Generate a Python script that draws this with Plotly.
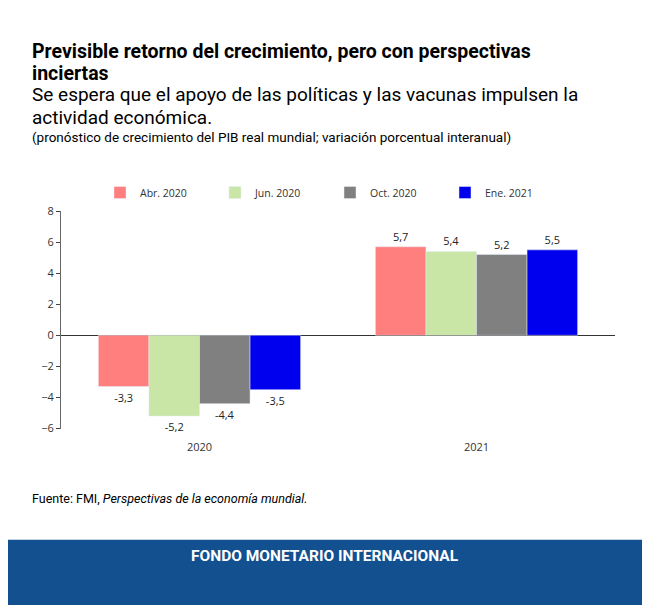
import plotly.graph_objects as go

years = ["2020", "2021"]
series = ["Abr. 2020", "Jun. 2020", "Oct. 2020", "Ene. 2021"]
values = {
    "Abr. 2020": [-3.3, 5.7],
    "Jun. 2020": [-5.2, 5.4],
    "Oct. 2020": [-4.4, 5.2],
    "Ene. 2021": [-3.5, 5.5],
}
colors = ["#ff7f7f", "#c9e6a6", "#808080", "#0000ee"]
yticks = [-6, -4, -2, 0, 2, 4, 6, 8]

W, H = 650, 605
OFF = 8
def py(p): return 1 - (p - OFF) / H
def px(p): return (p - OFF) / W

fig = go.Figure()
for s, c in zip(series, colors):
    fig.add_bar(x=years, y=values[s], name=s, marker_color=c,
                text=[f"{v:.1f}".replace(".", ",") for v in values[s]],
                textposition="outside", cliponaxis=False,
                textfont=dict(size=11, color="#222"))

fig.update_layout(
    width=W, height=H, margin=dict(l=0, r=0, t=0, b=0),
    plot_bgcolor="white", paper_bgcolor="white",
    font=dict(family="Segoe UI, Open Sans, sans-serif", color="#333"),
    barmode="group", bargap=0.27, bargroupgap=0,
    showlegend=True,
    legend=dict(orientation="h", x=px(330), xanchor="center", y=py(189), yanchor="middle",
                font=dict(size=10.5), itemwidth=30, entrywidth=70, traceorder="normal"),
    xaxis=dict(domain=[px(61), px(615)], showline=False, ticks="", tickfont=dict(size=11),
               ticklabelstandoff=10),
    yaxis=dict(domain=[py(431), py(208)], range=[-6, 8], tickvals=yticks,
               showgrid=False, zeroline=True, zerolinecolor="#333", zerolinewidth=1,
               showline=True, linecolor="#666", ticks="outside", ticklen=4,
               tickfont=dict(size=11)),
)

ann = [
    (30, 44, "<b>Previsible retorno del crecimiento, pero con perspectivas</b>", 19.5, "#000"),
    (30, 67, "<b>inciertas</b>", 19.5, "#000"),
    (30, 89, "Se espera que el apoyo de las políticas y las vacunas impulsen la", 19, "#000"),
    (30, 112, "actividad económica.", 19, "#000"),
    (30, 132, "(pronóstico de crecimiento del PIB real mundial; variación porcentual interanual)", 13.5, "#000"),
    (30, 503, "Fuente: FMI, <i>Perspectivas de la economía mundial.</i>", 12.5, "#000"),
]
for x, y, t, s, c in ann:
    fig.add_annotation(xref="paper", yref="paper", x=px(x), y=py(y), text=t, showarrow=False,
                       xanchor="left", yanchor="middle", font=dict(family="Roboto", size=s, color=c))

fig.add_shape(type="rect", xref="paper", yref="paper", x0=-0.05, x1=1.05, y0=-0.05, y1=py(545),
              fillcolor="#13508f", line_width=0, layer="below")
fig.add_annotation(xref="paper", yref="paper", x=px(325), y=py(573),
                   text="<b>FONDO MONETARIO INTERNACIONAL</b>",
                   showarrow=False, font=dict(family="Roboto", size=15.5, color="white"))

fig.write_html("out.html")
